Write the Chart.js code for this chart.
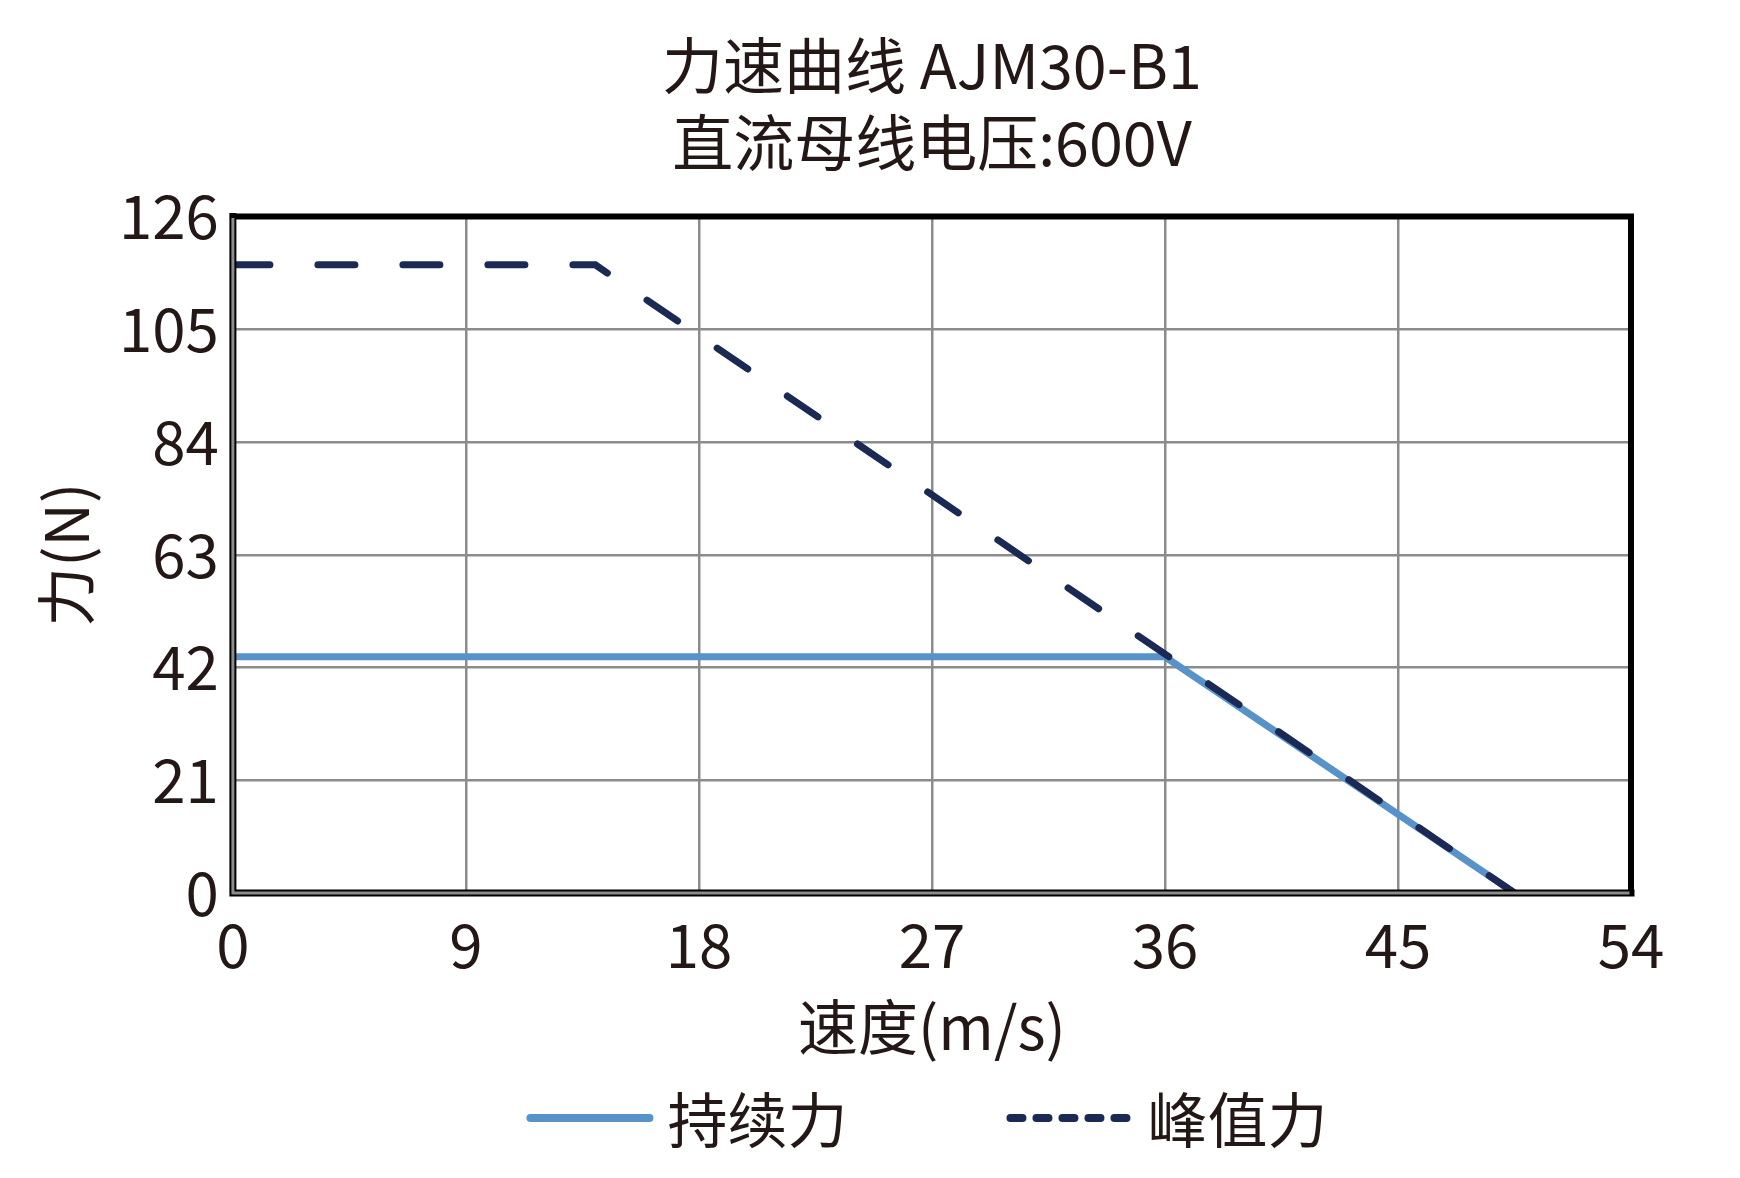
<!DOCTYPE html>
<html>
<head>
<meta charset="utf-8">
<script src="https://cdn.jsdelivr.net/npm/chart.js@4"></script>
<style>
  html, body { margin: 0; padding: 0; background: #fff; }
  #wrap { width: 1740px; height: 1178px; }
</style>
</head>
<body>
<div id="wrap"><canvas id="forceChart"></canvas></div>
<script>
// 数据
const contSpeed = [0, 36, 49.5];
const contForce = [44, 44, 0];
const peakSpeed = [0, 14, 49.5];
const peakForce = [117, 117, 0];
const xTicks = [0, 9, 18, 27, 36, 45, 54];
const yTicks = [0, 21, 42, 63, 84, 105, 126];

const FONT = '"Noto Sans CJK SC", "Noto Sans", sans-serif';
const TEXT = '#231815';

// 边框：上、右黑色，左、下灰色带黑边
const framePlugin = {
    id: 'frame',
    afterDatasetsDraw(chart) {
        const { ctx, chartArea: a } = chart;
        ctx.save();
        ctx.lineCap = 'square';
        ctx.strokeStyle = '#000';
        ctx.lineWidth = 6;
        ctx.beginPath();
        ctx.moveTo(a.left, a.top);
        ctx.lineTo(a.right, a.top);
        ctx.lineTo(a.right, a.bottom);
        ctx.stroke();
        ctx.lineWidth = 7;
        ctx.beginPath();
        ctx.moveTo(a.left, a.top);
        ctx.lineTo(a.left, a.bottom);
        ctx.lineTo(a.right, a.bottom);
        ctx.stroke();
        ctx.strokeStyle = '#8c8c8c';
        ctx.lineWidth = 3;
        ctx.beginPath();
        ctx.moveTo(a.left, a.top + 3);
        ctx.lineTo(a.left, a.bottom);
        ctx.lineTo(a.right - 3, a.bottom);
        ctx.stroke();
        ctx.restore();
    }
};

// 图例：线段 + 文字，居中于绘图区下方
const legendPlugin = {
    id: 'lineLegend',
    afterDraw(chart) {
        const { ctx, chartArea: a } = chart;
        const sample = 127, gap = 14, itemGap = 159;
        const y = chart.height - 60;
        ctx.save();
        ctx.font = '60px ' + FONT;
        ctx.textBaseline = 'middle';
        const items = chart.data.datasets.map(ds => ({
            ds: ds,
            w: sample + gap + ctx.measureText(ds.label).width
        }));
        const total = items.reduce((s, it) => s + it.w, 0) + itemGap * (items.length - 1);
        let x = (a.left + a.right) / 2 - total / 2 - 5;
        items.forEach((it, i) => {
            ctx.strokeStyle = it.ds.borderColor;
            ctx.lineWidth = 8;
            ctx.lineCap = 'round';
            ctx.setLineDash(i === 1 ? [12, 14] : []);
            ctx.beginPath();
            ctx.moveTo(x + 4, y);
            ctx.lineTo(x + sample - 4, y);
            ctx.stroke();
            ctx.setLineDash([]);
            ctx.fillStyle = TEXT;
            ctx.fillText(it.ds.label, x + sample + gap, y + 2);
            x += it.w + itemGap;
        });
        ctx.restore();
    }
};

const toPoints = (xs, ys) => xs.map((x, i) => ({ x: x, y: ys[i] }));

new Chart(document.getElementById('forceChart'), {
    type: 'line',
    data: {
        datasets: [{
            label: '持续力',
            data: toPoints(contSpeed, contForce),
            borderColor: '#5793c9',
            backgroundColor: '#5793c9',
            borderWidth: 7,
            borderCapStyle: 'round',
            pointRadius: 0,
            tension: 0,
            order: 2
        }, {
            label: '峰值力',
            data: toPoints(peakSpeed, peakForce),
            borderColor: '#1b2a55',
            backgroundColor: '#1b2a55',
            borderWidth: 7,
            borderDash: [37, 48],
            borderCapStyle: 'round',
            pointRadius: 0,
            tension: 0,
            order: 1
        }]
    },
    options: {
        responsive: true,
        maintainAspectRatio: false,
        animation: false,
        layout: { padding: { left: 35, right: 109, top: 0, bottom: 109 } },
        plugins: {
            title: {
                display: true,
                fullSize: false,
                text: ['力速曲线 AJM30-B1', '直流母线电压:600V'],
                color: TEXT,
                font: { family: FONT, size: 61, weight: 'normal', lineHeight: 1.25 },
                padding: { top: 28, bottom: 36 }
            },
            legend: { display: false },
            tooltip: { enabled: false }
        },
        scales: {
            x: {
                type: 'linear',
                min: 0,
                max: 54,
                afterBuildTicks(axis) { axis.ticks = xTicks.map(v => ({ value: v })); },
                ticks: { color: TEXT, font: { family: FONT, size: 60 }, padding: 16 },
                grid: { color: '#8c8c8c', lineWidth: 2.5, drawTicks: false },
                border: { display: false },
                title: {
                    display: true,
                    text: '速度(m/s)',
                    color: TEXT,
                    font: { family: FONT, size: 60 },
                    padding: { top: -6, bottom: 6 }
                }
            },
            y: {
                min: 0,
                max: 126,
                afterBuildTicks(axis) { axis.ticks = yTicks.map(v => ({ value: v })); },
                ticks: { color: TEXT, font: { family: FONT, size: 60 }, padding: 14 },
                grid: { color: '#8c8c8c', lineWidth: 2.5, drawTicks: false },
                border: { display: false },
                title: {
                    display: true,
                    text: '力(N)',
                    color: TEXT,
                    font: { family: FONT, size: 60 },
                    padding: { top: -5, bottom: 3 }
                }
            }
        }
    },
    plugins: [framePlugin, legendPlugin]
});
</script>
</body>
</html>
